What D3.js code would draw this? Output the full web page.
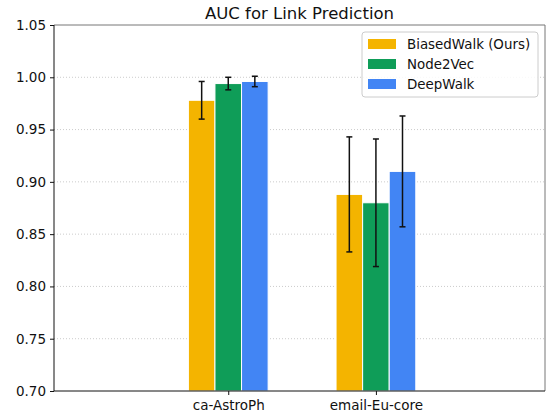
<!DOCTYPE html>
<html>
<head>
<title>AUC for Link Prediction</title>
<script src="https://d3js.org/d3.v7.min.js"></script>
<style type="text/css">
	body{ margin:0; background:white; }
	text{ font-family: "DejaVu Sans", sans-serif; fill:#111; }
	.grid line{ stroke:#cccccc; stroke-dasharray:1,2; }
</style>
</head>
<body>
<svg id="chart" width="547" height="419"></svg>
<script>
// data
var datasets = ["ca-AstroPh", "email-Eu-core"];
var methods = ["BiasedWalk (Ours)", "Node2Vec", "DeepWalk"];
var colors = ["#F4B400", "#0F9D58", "#4285F4"];
var meanAUC = [
	[0.978, 0.994, 0.996],
	[0.888, 0.880, 0.910]
];
var errAUC = [
	[0.018, 0.006, 0.005],
	[0.055, 0.061, 0.053]
];
var yTicks = [0.70, 0.75, 0.80, 0.85, 0.90, 0.95, 1.00, 1.05];

var svg = d3.select("#chart");
var margin = {top:25, right:2, bottom:28, left:54};
var width = +svg.attr("width") - margin.left - margin.right;
var height = +svg.attr("height") - margin.top - margin.bottom;
var g = svg.append("g").attr("transform","translate("+margin.left+","+margin.top+")");

var x = d3.scaleLinear().domain([-1.18, 2.145]).range([0, width]);
var y = d3.scaleLinear().domain([0.70, 1.05]).range([height, 0]);
var barW = 0.18;

// grid
g.append("g").attr("class","grid")
	.selectAll("line").data(yTicks.slice(1, -1)).enter()
	.append("line")
	.attr("x1",0).attr("x2",width)
	.attr("y1",d=>y(d)).attr("y2",d=>y(d));

// bars
datasets.forEach(function(ds, i){
	methods.forEach(function(m, j){
		var cx = i + (j - 1) * barW;
		g.append("rect")
			.attr("x", x(cx - barW/2))
			.attr("width", x(barW) - x(0))
			.attr("y", y(meanAUC[i][j]))
			.attr("height", height - y(meanAUC[i][j]))
			.attr("fill", colors[j])
			.attr("stroke","white").attr("stroke-width",1);
		var lo = y(meanAUC[i][j] - errAUC[i][j]), hi = y(meanAUC[i][j] + errAUC[i][j]);
		var eb = g.append("g").attr("stroke","#111").attr("stroke-width",1.5);
		eb.append("line").attr("x1",x(cx)).attr("x2",x(cx)).attr("y1",lo).attr("y2",hi);
		eb.append("line").attr("x1",x(cx)-3).attr("x2",x(cx)+3).attr("y1",lo).attr("y2",lo);
		eb.append("line").attr("x1",x(cx)-3).attr("x2",x(cx)+3).attr("y1",hi).attr("y2",hi);
	});
});

// axes
var yAxis = g.append("g")
	.call(d3.axisLeft(y).tickValues(yTicks).tickFormat(d3.format(".2f")).tickSize(4).tickPadding(4));
var xAxis = g.append("g").attr("transform","translate(0,"+height+")")
	.call(d3.axisBottom(x).tickValues([0,1]).tickFormat((d,i)=>datasets[i]).tickSize(4).tickPadding(5));
[yAxis, xAxis].forEach(function(a){
	a.select(".domain").remove();
	a.selectAll("text").style("font-size","13.5px").attr("fill","#111");
	a.selectAll("line").attr("stroke","#111");
});

// frame
g.append("line").attr("x1",0).attr("x2",width).attr("y1",0).attr("y2",0).attr("stroke","#777");
g.append("line").attr("x1",width).attr("x2",width).attr("y1",0).attr("y2",height).attr("stroke","#777");
g.append("line").attr("x1",0).attr("x2",0).attr("y1",0).attr("y2",height).attr("stroke","#111");
g.append("line").attr("x1",0).attr("x2",width).attr("y1",height).attr("y2",height).attr("stroke","#111");

// title
svg.append("text").attr("x", margin.left + width/2).attr("y", 19)
	.attr("text-anchor","middle").style("font-size","16.5px")
	.text("AUC for Link Prediction");

// legend
var leg = svg.append("g").attr("transform","translate(362,32)");
leg.append("rect").attr("width",176).attr("height",65).attr("rx",3)
	.attr("fill","white").attr("fill-opacity",0.85).attr("stroke","#cccccc");
methods.forEach(function(m, j){
	leg.append("rect").attr("x",6).attr("y",7 + j*20).attr("width",28).attr("height",10).attr("fill",colors[j]);
	leg.append("text").attr("x",45).attr("y",17 + j*20).style("font-size","13.4px").text(m);
});
</script>
</body>
</html>
